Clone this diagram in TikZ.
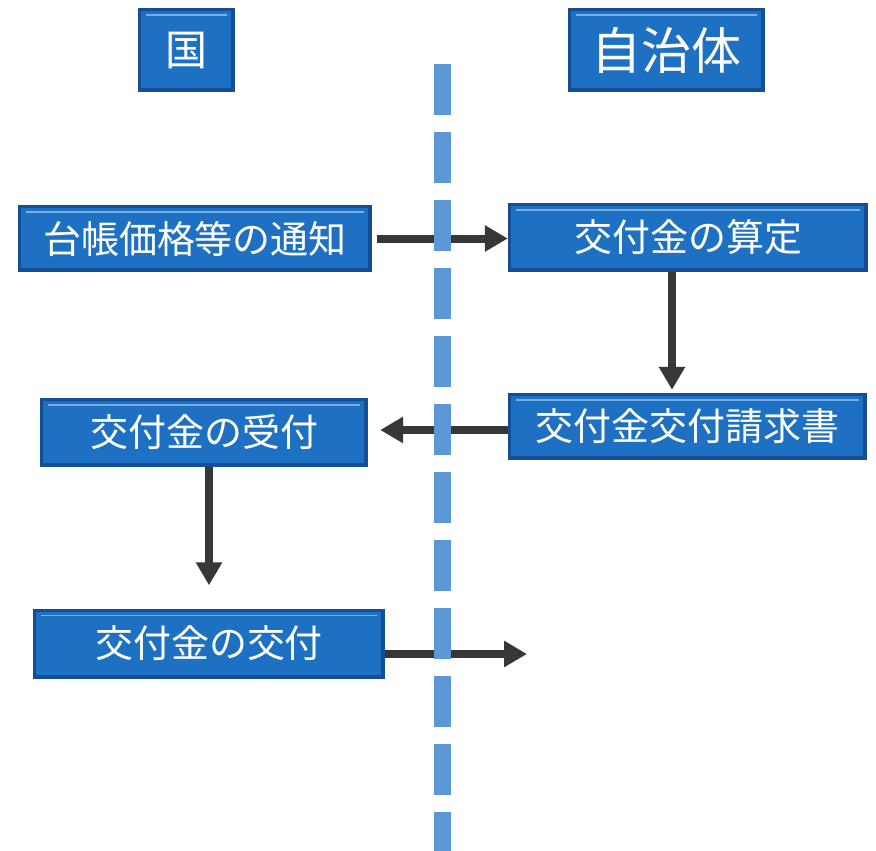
\documentclass[tikz,border=0pt]{standalone}
\usepackage{fontspec}
\newfontfamily\jp{Noto Sans CJK JP}
\usetikzlibrary{arrows.meta}
\definecolor{boxblue}{RGB}{30,112,194}
\definecolor{boxedge}{RGB}{20,78,148}
\definecolor{boxhi}{RGB}{120,175,228}
\definecolor{dashblue}{RGB}{92,152,214}
\definecolor{arrgray}{RGB}{55,55,58}
\tikzset{
  bluebox/.style={rectangle, inner sep=0pt, fill=boxedge, text=white,
    font=\jp\fontsize{38pt}{38pt}\selectfont,
    path picture={
      \fill[boxblue] ([shift={(3pt,-3pt)}]path picture bounding box.north west)
        rectangle ([shift={(-4pt,4pt)}]path picture bounding box.south east);
      \draw[boxhi, line width=1.6pt] ([shift={(8pt,-7pt)}]path picture bounding box.north west)
        -- ([shift={(-8pt,-7pt)}]path picture bounding box.north east);
    }},
  arr/.style={draw=arrgray, line width=8pt, -{Triangle[length=23pt,width=25pt]}},
}
\begin{document}
\begin{tikzpicture}[x=1pt,y=-1pt]
\useasboundingbox[fill=white] (0,0) rectangle (876,851);

\node[bluebox, minimum width=97pt, minimum height=84pt, font=\jp\fontsize{42pt}{42pt}\selectfont] (kuni) at (186.5,50) {国};
\node[bluebox, minimum width=197pt, minimum height=84pt, font=\jp\fontsize{50pt}{50pt}\selectfont] (jichi) at (666.5,50) {自治体};

\node[bluebox, minimum width=354pt, minimum height=67pt] (tsuchi) at (195,238.5) {台帳価格等の通知};
\node[bluebox, minimum width=360pt, minimum height=69pt] (santei) at (688,237.5) {交付金の算定};
\node[bluebox, minimum width=359pt, minimum height=67pt] (seikyu) at (687.5,426.5) {交付金交付請求書};
\node[bluebox, minimum width=328pt, minimum height=69pt] (uketsuke) at (204,432.5) {交付金の受付};
\node[bluebox, minimum width=352pt, minimum height=70pt] (kofu) at (209,643.5) {交付金の交付};

% arrows
\draw[arr, shorten <=5pt] (tsuchi.east) -- (tsuchi.east -| santei.west);

\path ([xshift=-16pt]santei.south) coordinate (a2s);
\draw[arr, shorten >=3pt] (a2s) -- (a2s |- seikyu.north);

\path ([yshift=-3.5pt]seikyu.west) coordinate (a3s);
\draw[arr, shorten >=12pt] (a3s) -- (a3s -| uketsuke.east);

\path ([xshift=5pt]uketsuke.south) coordinate (a4s);
\draw[arr, shorten >=23pt] (a4s) -- (a4s |- kofu.north);

\path ([yshift=-10.5pt]kofu.east) coordinate (a5s);
\coordinate (a5e) at (527,654);
\draw[arr] (a5s) -- (a5e);

% dashed divider
\draw[dashblue, line width=17pt, dash pattern=on 51pt off 17pt] (442,64) -- (442,851);
\end{tikzpicture}
\end{document}
